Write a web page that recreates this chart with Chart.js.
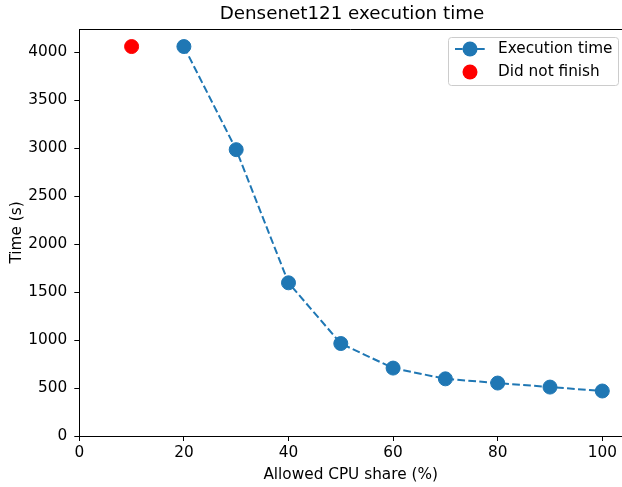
<!DOCTYPE html>
<html lang="en">
<head>
  <meta charset="UTF-8">
  <title>Densenet121 execution time</title>
  <script src="https://cdn.jsdelivr.net/npm/chart.js@4.4.0/dist/chart.umd.min.js"></script>
  <style>
    body { margin: 0; background: #ffffff; }
    #grafico { display: block; }
  </style>
</head>
<body>
  <canvas id="grafico" width="622" height="487"></canvas>

<script>
  // dados
  const cpuShare = [20, 30, 40, 50, 60, 70, 80, 90, 100];
  const execTime = [4060, 2985, 1597, 964, 708, 596, 552, 510, 469];
  const naoTerminouShare = [10];
  const naoTerminouTime = [4060];
  const xTicks = [0, 20, 40, 60, 80, 100];
  const yTicks = [0, 500, 1000, 1500, 2000, 2500, 3000, 3500, 4000];

  const azul = '#1f77b4';
  const vermelho = '#ff0000';
  const fonte = 'DejaVu Sans';
  const tamTexto = 15.3;

  const pontosExec = cpuShare.map((x, i) => ({ x: x, y: execTime[i] }));
  const pontosFalha = naoTerminouShare.map((x, i) => ({ x: x, y: naoTerminouTime[i] }));

  // linha de cima + título + legenda no estilo matplotlib
  const molduraLegenda = {
    id: 'molduraLegenda',
    afterDraw(chart) {
      const ctx = chart.ctx;
      const a = chart.chartArea;
      ctx.save();
      ctx.strokeStyle = '#000000';
      ctx.lineWidth = 1;
      ctx.beginPath();
      ctx.moveTo(a.left, Math.round(a.top) + 0.5);
      ctx.lineTo(a.right, Math.round(a.top) + 0.5);
      ctx.stroke();

      // título (o eixo continua além da borda direita da imagem)
      ctx.fillStyle = '#000000';
      ctx.font = '18.3px "' + fonte + '"';
      ctx.textAlign = 'center';
      ctx.textBaseline = 'middle';
      ctx.fillText('Densenet121 execution time', 352, 14);

      // caixa da legenda
      const bx = 448.5, by = 37.5, bw = 170, bh = 48, r = 3;
      ctx.beginPath();
      ctx.moveTo(bx + r, by);
      ctx.arcTo(bx + bw, by, bx + bw, by + bh, r);
      ctx.arcTo(bx + bw, by + bh, bx, by + bh, r);
      ctx.arcTo(bx, by + bh, bx, by, r);
      ctx.arcTo(bx, by, bx + bw, by, r);
      ctx.closePath();
      ctx.fillStyle = 'rgba(255,255,255,0.8)';
      ctx.fill();
      ctx.strokeStyle = '#cccccc';
      ctx.stroke();

      // item 1: linha tracejada + marcador
      ctx.strokeStyle = azul;
      ctx.lineWidth = 2;
      ctx.setLineDash([7.7, 3.3]);
      ctx.beginPath();
      ctx.moveTo(455, 49);
      ctx.lineTo(486, 49);
      ctx.stroke();
      ctx.setLineDash([]);
      ctx.fillStyle = azul;
      ctx.beginPath();
      ctx.arc(470, 49, 7.5, 0, Math.PI * 2);
      ctx.fill();

      // item 2: marcador vermelho
      ctx.fillStyle = vermelho;
      ctx.beginPath();
      ctx.arc(470, 72, 7.5, 0, Math.PI * 2);
      ctx.fill();

      ctx.fillStyle = '#000000';
      ctx.font = tamTexto + 'px "' + fonte + '"';
      ctx.textBaseline = 'middle';
      ctx.textAlign = 'left';
      ctx.fillText('Execution time', 498, 49);
      ctx.fillText('Did not finish', 498, 72);
      ctx.restore();
    }
  };

  const config = {
    type: 'line',
    data: {
      datasets: [
        {
          label: 'Execution time',
          data: pontosExec,
          borderColor: azul,
          backgroundColor: azul,
          borderWidth: 2,
          borderDash: [7.7, 3.3],
          pointRadius: 7,
          pointBorderWidth: 1,
          pointBorderColor: azul,
          pointBackgroundColor: azul,
          fill: false,
          tension: 0
        },
        {
          label: 'Did not finish',
          data: pontosFalha,
          showLine: false,
          borderColor: vermelho,
          backgroundColor: vermelho,
          pointRadius: 7,
          pointBorderWidth: 1,
          pointBorderColor: vermelho,
          pointBackgroundColor: vermelho
        }
      ]
    },
    options: {
      responsive: false,
      animation: false,
      layout: { autoPadding: false, padding: { left: 0, right: 0, top: 29, bottom: 0 } },
      plugins: {
        legend: { display: false },
        tooltip: { enabled: false },
        title: { display: false }
      },
      scales: {
        x: {
          type: 'linear',
          min: 0,
          max: 103.77,
          afterFit(scale) {
            scale.height = 51;
            scale.paddingLeft = 0;
            scale.paddingRight = 0;
          },
          afterBuildTicks(scale) { scale.ticks = xTicks.map(v => ({ value: v })); },
          grid: { display: true, drawOnChartArea: false, drawTicks: true, tickLength: 5, tickColor: '#000000', tickWidth: 1 },
          border: { display: true, color: '#000000', width: 1 },
          ticks: {
            color: '#000000', padding: 3, maxRotation: 0,
            font: { family: fonte, size: tamTexto },
            callback: v => String(v)
          },
          title: {
            display: true,
            text: 'Allowed CPU share (%)',
            color: '#000000',
            font: { family: fonte, size: tamTexto },
            padding: { top: 0, bottom: 2.5 }
          }
        },
        y: {
          type: 'linear',
          min: 0,
          max: 4243,
          afterFit(scale) {
            scale.width = 79.3;
            scale.paddingTop = 0;
            scale.paddingBottom = 0;
          },
          afterBuildTicks(scale) { scale.ticks = yTicks.map(v => ({ value: v })); },
          grid: { display: true, drawOnChartArea: false, drawTicks: true, tickLength: 5, tickColor: '#000000', tickWidth: 1 },
          border: { display: true, color: '#000000', width: 1 },
          ticks: {
            color: '#000000', padding: 7,
            font: { family: fonte, size: tamTexto },
            callback: v => String(v)
          },
          title: {
            display: true,
            text: 'Time (s)',
            color: '#000000',
            font: { family: fonte, size: tamTexto },
            padding: { top: 7.8, bottom: 0 }
          }
        }
      }
    },
    plugins: [molduraLegenda]
  };

  const meuGrafico = new Chart(document.getElementById('grafico'), config);
</script>
</body>
</html>
